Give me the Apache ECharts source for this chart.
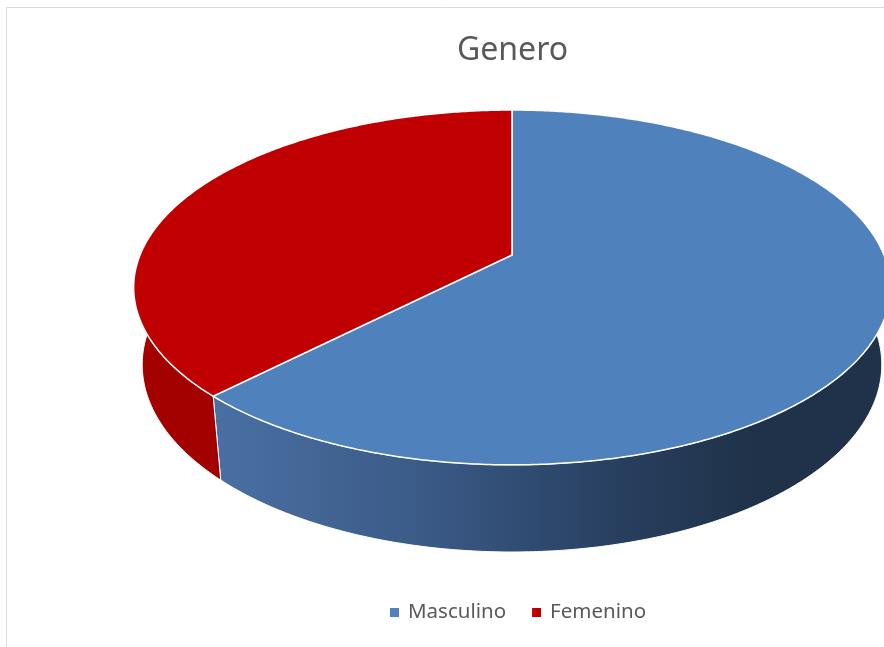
<!DOCTYPE html>
<html>
<head>
<meta charset="utf-8">
<script src="https://cdn.jsdelivr.net/npm/echarts@6/dist/echarts.min.js"></script>
<style>
html,body{margin:0;padding:0;background:#fff;}
#chart{width:884px;height:647px;}
</style>
</head>
<body>
<div id="chart"></div>
<script>
// ---- data ----
const categories = ['Masculino', 'Femenino'];
const values = [62.3, 37.7];
const title = 'Genero';

// ---- style ----
const topColors = ['#4f81bd', '#c00000'];
const sideColors = [
  {type: 'linear', x: 212, y: 0, x2: 890, y2: 0, global: true,
   colorStops: [
     {offset: 0, color: '#4a70a3'},
     {offset: 0.3, color: '#3b5b88'},
     {offset: 0.6, color: '#283f5f'},
     {offset: 0.8, color: '#1f3249'},
     {offset: 1, color: '#1f3249'}
   ]},
  '#a30000'
];

// perspective projection of a unit disk
const P = {cx: 512, cy: 255, F: 1804, D: 4.85, s: 0.461, c: 0.887, h: 0.236};
function proj(x, y, z) {
  const Yc = y * P.s + z * P.c;
  const Zc = P.D + y * P.c - z * P.s;
  return [P.cx + P.F * x / Zc, P.cy - P.F * Yc / Zc];
}
function rim(theta, z) {
  return proj(Math.sin(theta), Math.cos(theta), z);
}
const total = values.reduce((a, b) => a + b, 0);

function makeRender(idx) {
  return function (params, api) {
    let before = 0;
    for (let k = 0; k < idx; k++) before += values[k];
    const a0 = before / total * Math.PI * 2;
    const a1 = a0 + api.value(0) / total * Math.PI * 2;
    const n = Math.max(8, Math.ceil((a1 - a0) / (Math.PI / 360)));
    const topArc = [], botArc = [];
    for (let i = 0; i <= n; i++) {
      const t = a0 + (a1 - a0) * i / n;
      topArc.push(rim(t, 0));
      botArc.push(rim(t, -P.h));
    }
    const wall = topArc.concat(botArc.slice().reverse());
    const top = [proj(0, 0, 0)].concat(topArc);
    return {
      type: 'group',
      children: [
        {type: 'polygon', z2: 0, shape: {points: wall},
         style: {fill: sideColors[idx], stroke: '#ffffff', lineWidth: 1}},
        {type: 'polygon', z2: 10, shape: {points: top},
         style: {fill: topColors[idx], stroke: '#ffffff', lineWidth: 1.5}}
      ]
    };
  };
}

const chart = echarts.init(document.getElementById('chart'));
chart.setOption({
  backgroundColor: '#ffffff',
  animation: false,
  title: {
    text: title, left: 452, top: 30,
    textStyle: {fontFamily: 'Noto Sans', fontSize: 32, fontWeight: 'normal', color: '#595959'}
  },
  legend: {
    data: categories, bottom: 19, left: 385,
    icon: 'rect', itemWidth: 9, itemHeight: 9, itemGap: 26,
    textStyle: {fontFamily: 'Noto Sans', fontSize: 20.5, color: '#595959', padding: [0, 0, 0, 4]}
  },
  graphic: [{
    type: 'rect', silent: true, z: -1,
    shape: {x: 6.5, y: 7.5, width: 1000, height: 1000},
    style: {fill: 'none', stroke: '#d9d9d9', lineWidth: 1}
  }],
  series: categories.map((name, i) => ({
    type: 'custom', name: name, coordinateSystem: 'none',
    itemStyle: {color: topColors[i]},
    data: [values[i]],
    renderItem: makeRender(i)
  }))
});
</script>
</body>
</html>
